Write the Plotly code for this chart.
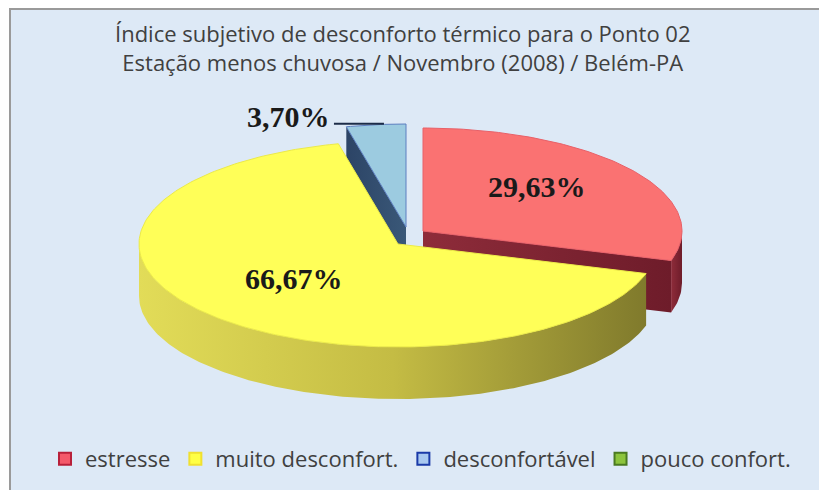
import numpy as np
import plotly.graph_objects as go

# ---------------- data ----------------
categories = ["estresse", "muito desconfort.", "desconfortável", "pouco confort."]
values = [29.63, 66.67, 3.70, 0.0]
value_labels = ["29,63%", "66,67%", "3,70%", "0,00%"]
title_lines = ["Índice subjetivo de desconforto térmico para o Ponto 02",
               "Estação menos chuvosa / Novembro (2008) / Belém-PA"]

# ---------------- style ----------------
top_colors = ["#fa7272", "#ffff58", "#9ccbe0", "#8cc43c"]
edge_colors = ["#e86068", "#ecea48", "#5d7fc0", "#5f8d2a"]
side_scales = [
    [[0, "#8e2c3a"], [1, "#6e1c2a"]],
    [[0, "#e2dc58"], [0.5, "#c4bc44"], [1, "#807a2c"]],
    [[0, "#2c4466"], [1, "#3a5878"]],
    [[0, "#5f8d2a"], [1, "#3f6d1a"]],
]
legend_fill = ["#f4596a", "#ffff44", "#a8c8f0", "#8cc43c"]
legend_line = ["#b8203a", "#f0e030", "#1a3aa8", "#4a7a20"]
pull_offsets = [(25, -13), (0, 0), (8, -17), (0, 0)]

CX, CY, RX, RY, DEPTH = 398, 244, 259, 103, 52
FONT = "Open Sans"
LABEL_FONT = dict(family="Liberation Serif", size=30, color="#1a1a1a", weight="bold")
PAGE_OFFSET = 8  # default body margin of the page

total = sum(values)
ends = np.cumsum(values) / total * 360.0
starts = np.concatenate([[0.0], ends[:-1]])


def ell(theta, ox, oy, dz=0.0):
    t = np.radians(np.asarray(theta, dtype=float))
    return CX + ox + RX * np.sin(t), CY + oy - RY * np.cos(t) + dz


def arc(a0, a1):
    n = max(2, int(abs(a1 - a0)) + 2)
    return np.linspace(a0, a1, n)


fig = go.Figure()

# draw from back (top of the ellipse) to front
mids = (starts + ends) / 2
order = sorted(range(len(values)), key=lambda i: -np.cos(np.radians(mids[i])))

for i in order:
    if values[i] <= 0:
        continue
    a0, a1 = starts[i], ends[i]
    ox, oy = pull_offsets[i]
    cxo, cyo = CX + ox, CY + oy
    side_kw = dict(mode="lines", fill="toself", line=dict(width=0),
                   fillgradient=dict(type="horizontal", colorscale=side_scales[i]),
                   hoverinfo="skip", showlegend=False)
    if np.sin(np.radians(a0)) < -1e-6:
        ex, ey = ell(a0, ox, oy)
        fig.add_trace(go.Scatter(x=[cxo, ex, ex, cxo, cxo],
                                 y=[cyo, ey, ey + DEPTH, cyo + DEPTH, cyo], **side_kw))
    if np.sin(np.radians(a1)) > 1e-6:
        ex, ey = ell(a1, ox, oy)
        fig.add_trace(go.Scatter(x=[cxo, ex, ex, cxo, cxo],
                                 y=[cyo, ey, ey + DEPTH, cyo + DEPTH, cyo], **side_kw))
    s0, s1 = max(a0, 90.0), min(a1, 270.0)
    if s1 > s0:
        th = arc(s0, s1)
        tx, ty = ell(th, ox, oy)
        bx, by = ell(th[::-1], ox, oy, DEPTH)
        fig.add_trace(go.Scatter(x=np.concatenate([tx, bx, tx[:1]]),
                                 y=np.concatenate([ty, by, ty[:1]]), **side_kw))
    th = arc(a0, a1)
    tx, ty = ell(th, ox, oy)
    fig.add_trace(go.Scatter(x=np.concatenate([[cxo], tx, [cxo]]),
                             y=np.concatenate([[cyo], ty, [cyo]]),
                             mode="lines", fill="toself", fillcolor=top_colors[i],
                             line=dict(color=edge_colors[i], width=1),
                             hoverinfo="skip", showlegend=False))

# value labels
annotations = []
for i, v in enumerate(values):
    if v <= 0:
        continue
    ox, oy = pull_offsets[i]
    m = mids[i]
    if v < 5:
        px, py = ell(m, ox, oy)
        py = py - 1
        lx = px - 42
        fig.add_trace(go.Scatter(x=[lx, px + 8], y=[py, py], mode="lines",
                                 line=dict(color="#1c2c48", width=2),
                                 hoverinfo="skip", showlegend=False))
        annotations.append(dict(x=lx - 2, y=py - 7, xref="x", yref="y", text=value_labels[i],
                                showarrow=False, xanchor="right", yanchor="middle",
                                font=LABEL_FONT))
    else:
        t = np.radians(m)
        lx = CX + ox + 0.55 * RX * np.sin(t)
        ly = CY + oy - 0.6 * RY * np.cos(t) - 8
        annotations.append(dict(x=lx, y=ly, xref="x", yref="y", text=value_labels[i],
                                showarrow=False, xanchor="center", yanchor="middle",
                                font=LABEL_FONT))

# legend entries
for i, c in enumerate(categories):
    fig.add_trace(go.Scatter(x=[None], y=[None], mode="markers", name=c,
                             marker=dict(symbol="square", size=14, color=legend_fill[i],
                                         line=dict(color=legend_line[i], width=2))))

annotations.append(dict(x=403, y=47, xref="x", yref="y", text="<br>".join(title_lines),
                        showarrow=False, xanchor="center", yanchor="middle",
                        font=dict(family=FONT, size=22, color="#404040")))

shapes = [dict(type="rect", xref="x", yref="y", x0=10, y0=9, x1=860, y1=520,
               fillcolor="#dde9f6", line=dict(color="#9a9a9a", width=2), layer="below")]

fig.update_layout(
    width=827, height=490, autosize=False,
    margin=dict(l=0, r=0, t=0, b=0),
    paper_bgcolor="#ffffff", plot_bgcolor="rgba(0,0,0,0)",
    xaxis=dict(range=[PAGE_OFFSET, 827 + PAGE_OFFSET], visible=False, fixedrange=True),
    yaxis=dict(range=[490 + PAGE_OFFSET, PAGE_OFFSET], visible=False, fixedrange=True),
    annotations=annotations, shapes=shapes,
    showlegend=True,
    legend=dict(orientation="h", x=37 / 827, xanchor="left", y=1 - 451 / 490, yanchor="middle",
                bgcolor="rgba(0,0,0,0)", font=dict(family=FONT, size=22, color="#404040"),
                itemsizing="constant", tracegroupgap=0),
)

fig.write_html("out.html")
